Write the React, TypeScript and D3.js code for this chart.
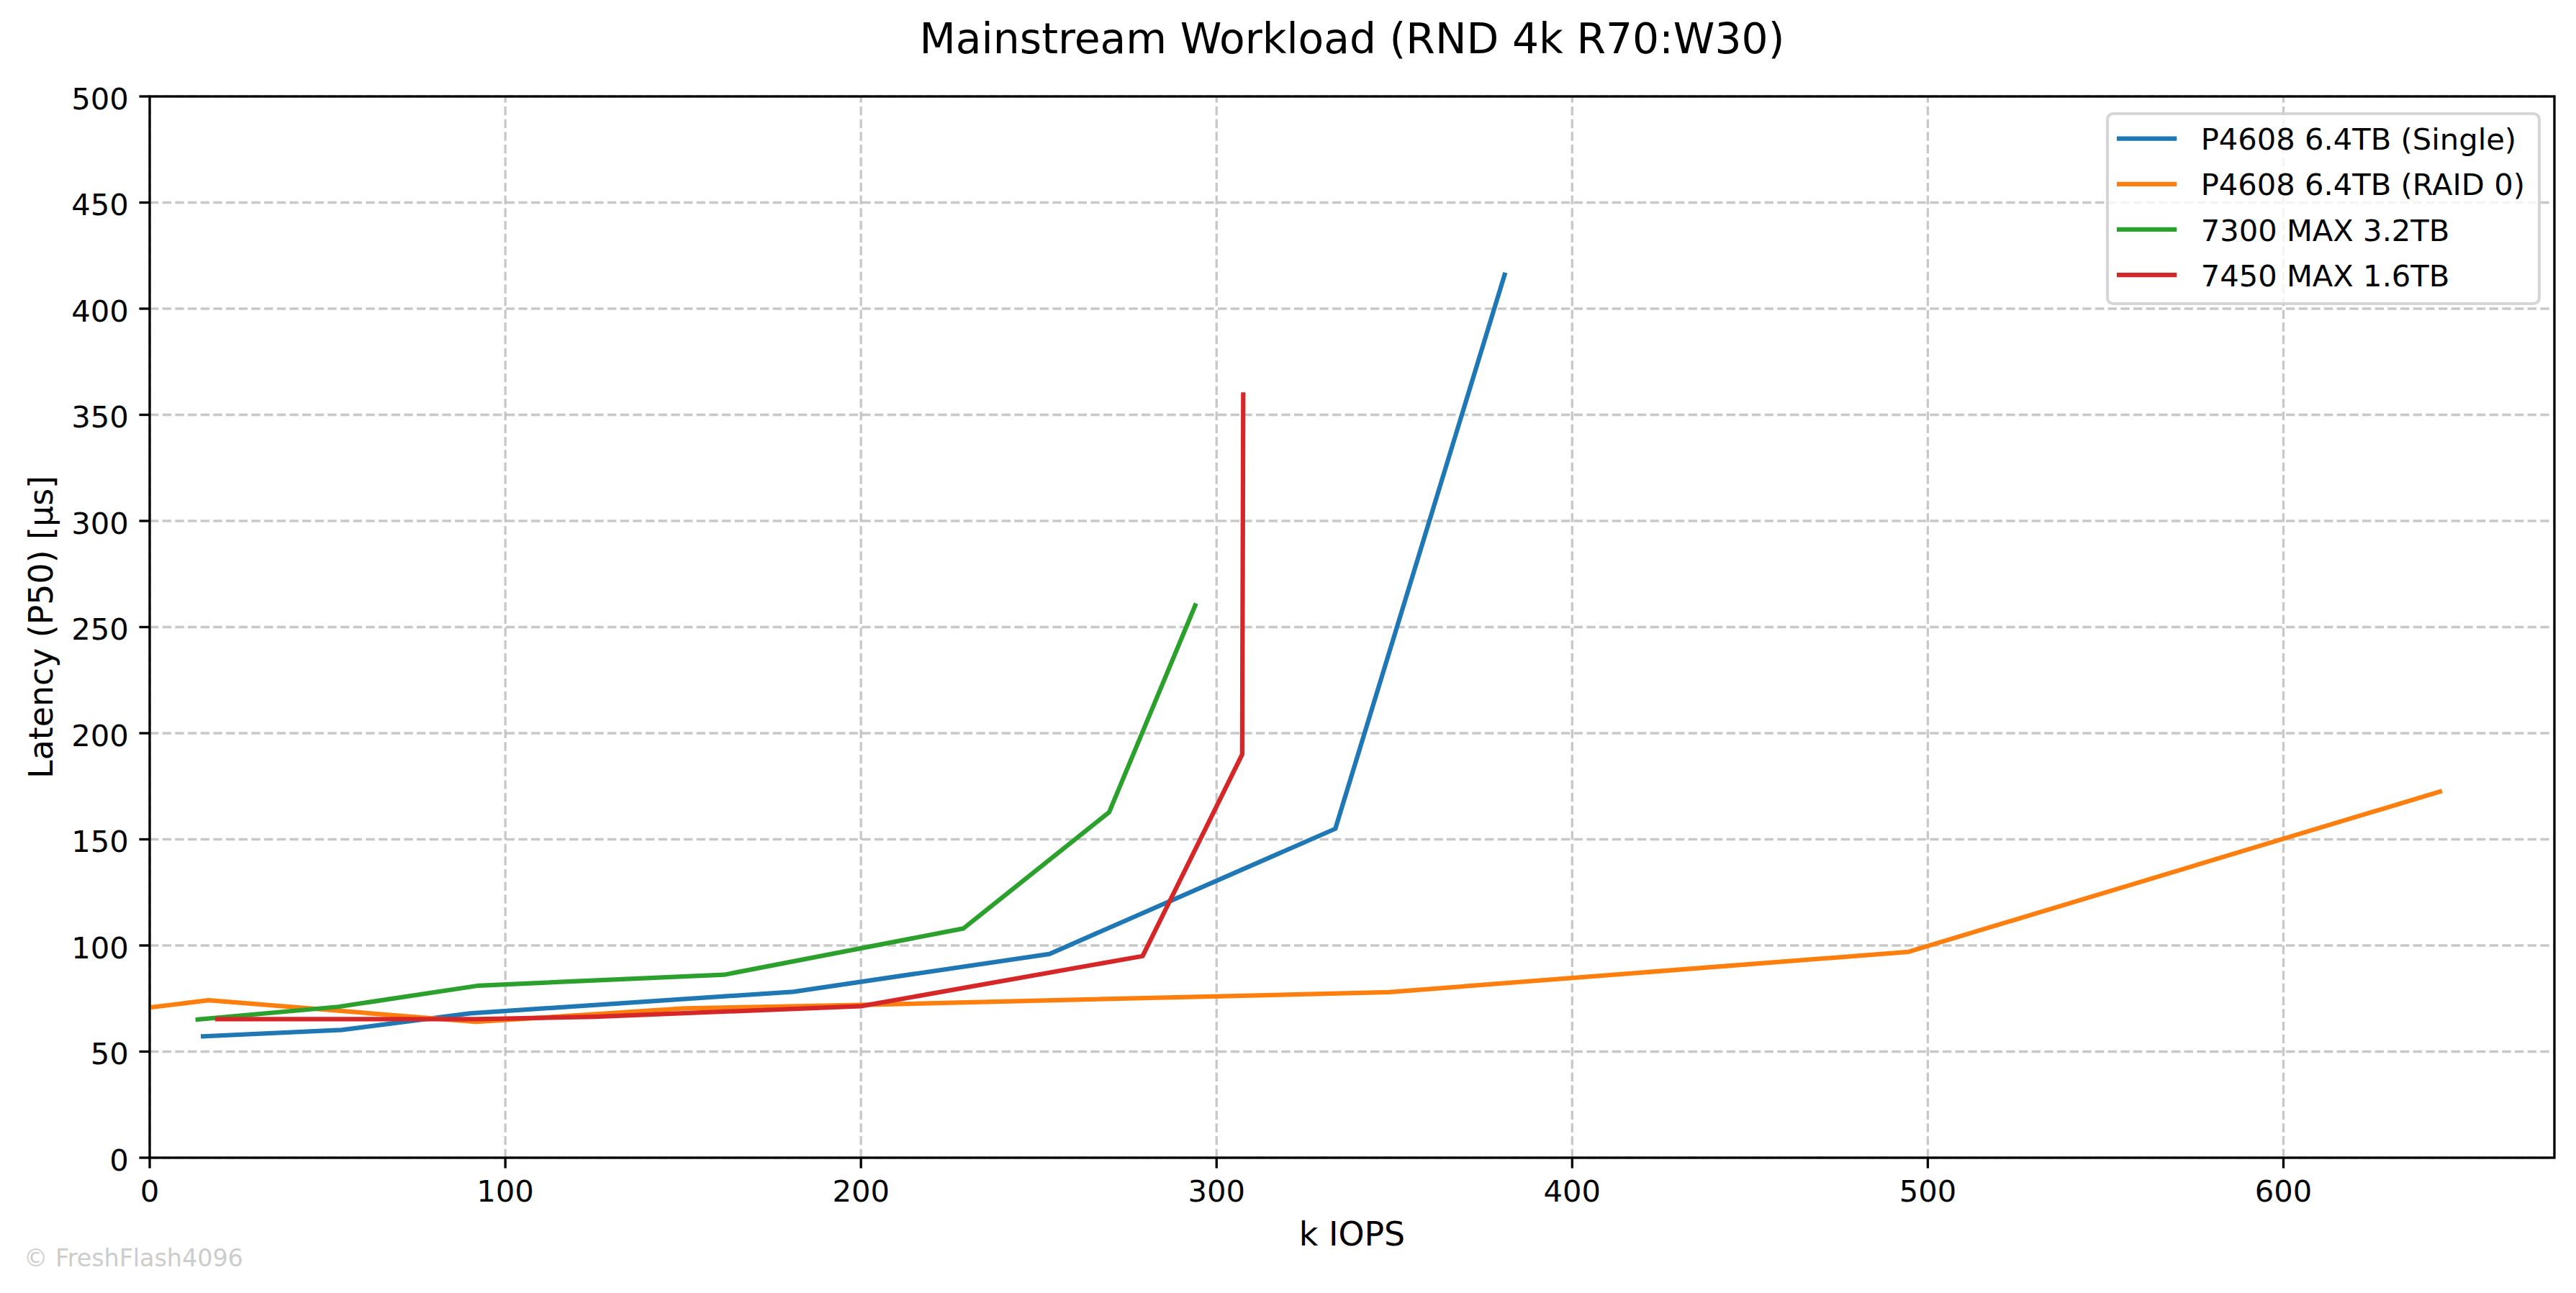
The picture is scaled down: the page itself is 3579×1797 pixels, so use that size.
import React from 'react';
import * as d3 from 'd3';

// series (k IOPS vs P50 latency in µs)
const seriesNames = ['P4608 6.4TB (Single)', 'P4608 6.4TB (RAID 0)', '7300 MAX 3.2TB', '7450 MAX 1.6TB'];
const seriesColors = ['#1f77b4', '#ff7f0e', '#2ca02c', '#d62728'];

const p4608SingleIops = [15, 54, 90, 181, 253, 333.4, 381];
const p4608SingleLat = [57.2, 60.2, 68, 78.2, 96, 155, 416];

const p4608RaidIops = [1, 16.6, 91.7, 150.5, 200, 348.5, 494.6, 644];
const p4608RaidLat = [71, 74.2, 64, 70.4, 72, 78, 97, 172.5];

const max7300Iops = [13.5, 53, 92.5, 161.5, 228.8, 269.8, 294];
const max7300Lat = [65.1, 71.1, 81.1, 86.2, 108, 162.8, 260.2];

const max7450Iops = [19, 92, 125, 200, 279.2, 307.2, 307.5];
const max7450Lat = [65.3, 65.3, 66.4, 71.4, 95, 190, 359.5];

const xTicks = [0, 100, 200, 300, 400, 500, 600];
const yTicks = [0, 50, 100, 150, 200, 250, 300, 350, 400, 450, 500];

const W = 3579;
const H = 1797;
const pt = 300 / 72; // px per point
const margin = { left: 208, right: 30, top: 134, bottom: 188 };
const font = 'DejaVu Sans, sans-serif';
const fs = 10 * pt;
const labelFs = 11 * pt;

const App: React.FC = () => {
  const series = [
    { x: p4608SingleIops, y: p4608SingleLat },
    { x: p4608RaidIops, y: p4608RaidLat },
    { x: max7300Iops, y: max7300Lat },
    { x: max7450Iops, y: max7450Lat },
  ].map((s, i) => ({
    name: seriesNames[i],
    color: seriesColors[i],
    points: s.x.map((v, j) => [v, s.y[j]] as [number, number]),
  }));

  const xMax = d3.max(series.flatMap((s) => s.points.map((p) => p[0]))) || 1;

  const x = d3.scaleLinear()
    .domain([0, xMax * 1.05])
    .range([margin.left, W - margin.right]);
  const y = d3.scaleLinear()
    .domain([0, 500])
    .range([H - margin.bottom, margin.top]);

  const line = d3.line<[number, number]>()
    .x((d) => x(d[0]))
    .y((d) => y(d[1]));

  const [x0, x1] = x.range();
  const [y0, y1] = y.range();
  const tickLen = 3.5 * pt;
  const gridDash = `${3.7 * 0.8 * pt} ${1.6 * 0.8 * pt}`;

  // legend geometry
  const legX = 2928;
  const legY = 158;
  const legW = 600;
  const legH = 264;
  const rowGap = 63.1;

  return (
    <>
      <style>{'body{margin:0}'}</style>
      <svg width={W} height={H} style={{ display: 'block', background: '#fff' }} fontFamily={font}>
        <defs>
          <clipPath id="plot">
            <rect x={x0} y={y1} width={x1 - x0} height={y0 - y1} />
          </clipPath>
        </defs>

        {/* grid */}
        <g stroke="#b0b0b0" strokeOpacity={0.7} strokeWidth={0.8 * pt} strokeDasharray={gridDash}>
          {xTicks.map((t) => (
            <line key={`gx${t}`} x1={x(t)} x2={x(t)} y1={y0} y2={y1} />
          ))}
          {yTicks.map((t) => (
            <line key={`gy${t}`} x1={x0} x2={x1} y1={y(t)} y2={y(t)} />
          ))}
        </g>

        {/* lines */}
        <g clipPath="url(#plot)" fill="none" strokeWidth={1.5 * pt} strokeLinejoin="round" strokeLinecap="square">
          {series.map((s) => (
            <path key={s.name} d={line(s.points) || ''} stroke={s.color} />
          ))}
        </g>

        {/* spines */}
        <rect x={x0} y={y1} width={x1 - x0} height={y0 - y1} fill="none" stroke="#000" strokeWidth={0.8 * pt} />

        {/* x ticks */}
        <g fontSize={fs} fill="#000" textAnchor="middle">
          {xTicks.map((t) => (
            <g key={`xt${t}`}>
              <line x1={x(t)} x2={x(t)} y1={y0} y2={y0 + tickLen} stroke="#000" strokeWidth={0.8 * pt} />
              <text x={x(t)} y={1670}>{t}</text>
            </g>
          ))}
        </g>

        {/* y ticks */}
        <g fontSize={fs} fill="#000" textAnchor="end">
          {yTicks.map((t) => (
            <g key={`yt${t}`}>
              <line x1={x0 - tickLen} x2={x0} y1={y(t)} y2={y(t)} stroke="#000" strokeWidth={0.8 * pt} />
              <text x={x0 - tickLen - 3.5 * pt} y={y(t) + 0.42 * fs}>{t}</text>
            </g>
          ))}
        </g>

        {/* labels */}
        <text x={(x0 + x1) / 2} y={1731} fontSize={labelFs} textAnchor="middle">k IOPS</text>
        <text
          transform={`translate(73,${(y0 + y1) / 2}) rotate(-90)`}
          fontSize={labelFs}
          textAnchor="middle"
        >
          Latency (P50) [µs]
        </text>
        <text x={(x0 + x1) / 2} y={74} fontSize={14 * pt} textAnchor="middle">
          Mainstream Workload (RND 4k R70:W30)
        </text>

        {/* legend */}
        <g>
          <rect
            x={legX}
            y={legY}
            width={legW}
            height={legH}
            rx={8}
            fill="#fff"
            fillOpacity={0.8}
            stroke="#cccccc"
            strokeOpacity={0.8}
            strokeWidth={1 * pt}
          />
          {series.map((s, i) => {
            const cy = 192.7 + i * rowGap;
            return (
              <g key={`lg${s.name}`}>
                <line x1={2941} x2={2941 + 2 * fs} y1={cy} y2={cy} stroke={s.color} strokeWidth={1.5 * pt} />
                <text x={2941 + 2.8 * fs} y={cy + 0.375 * fs} fontSize={fs}>{s.name}</text>
              </g>
            );
          })}
        </g>

        {/* watermark */}
        <text x={33} y={1760} fontSize={8 * pt} fill="#cccccc">© FreshFlash4096</text>
      </svg>
    </>
  );
};

export default App;
